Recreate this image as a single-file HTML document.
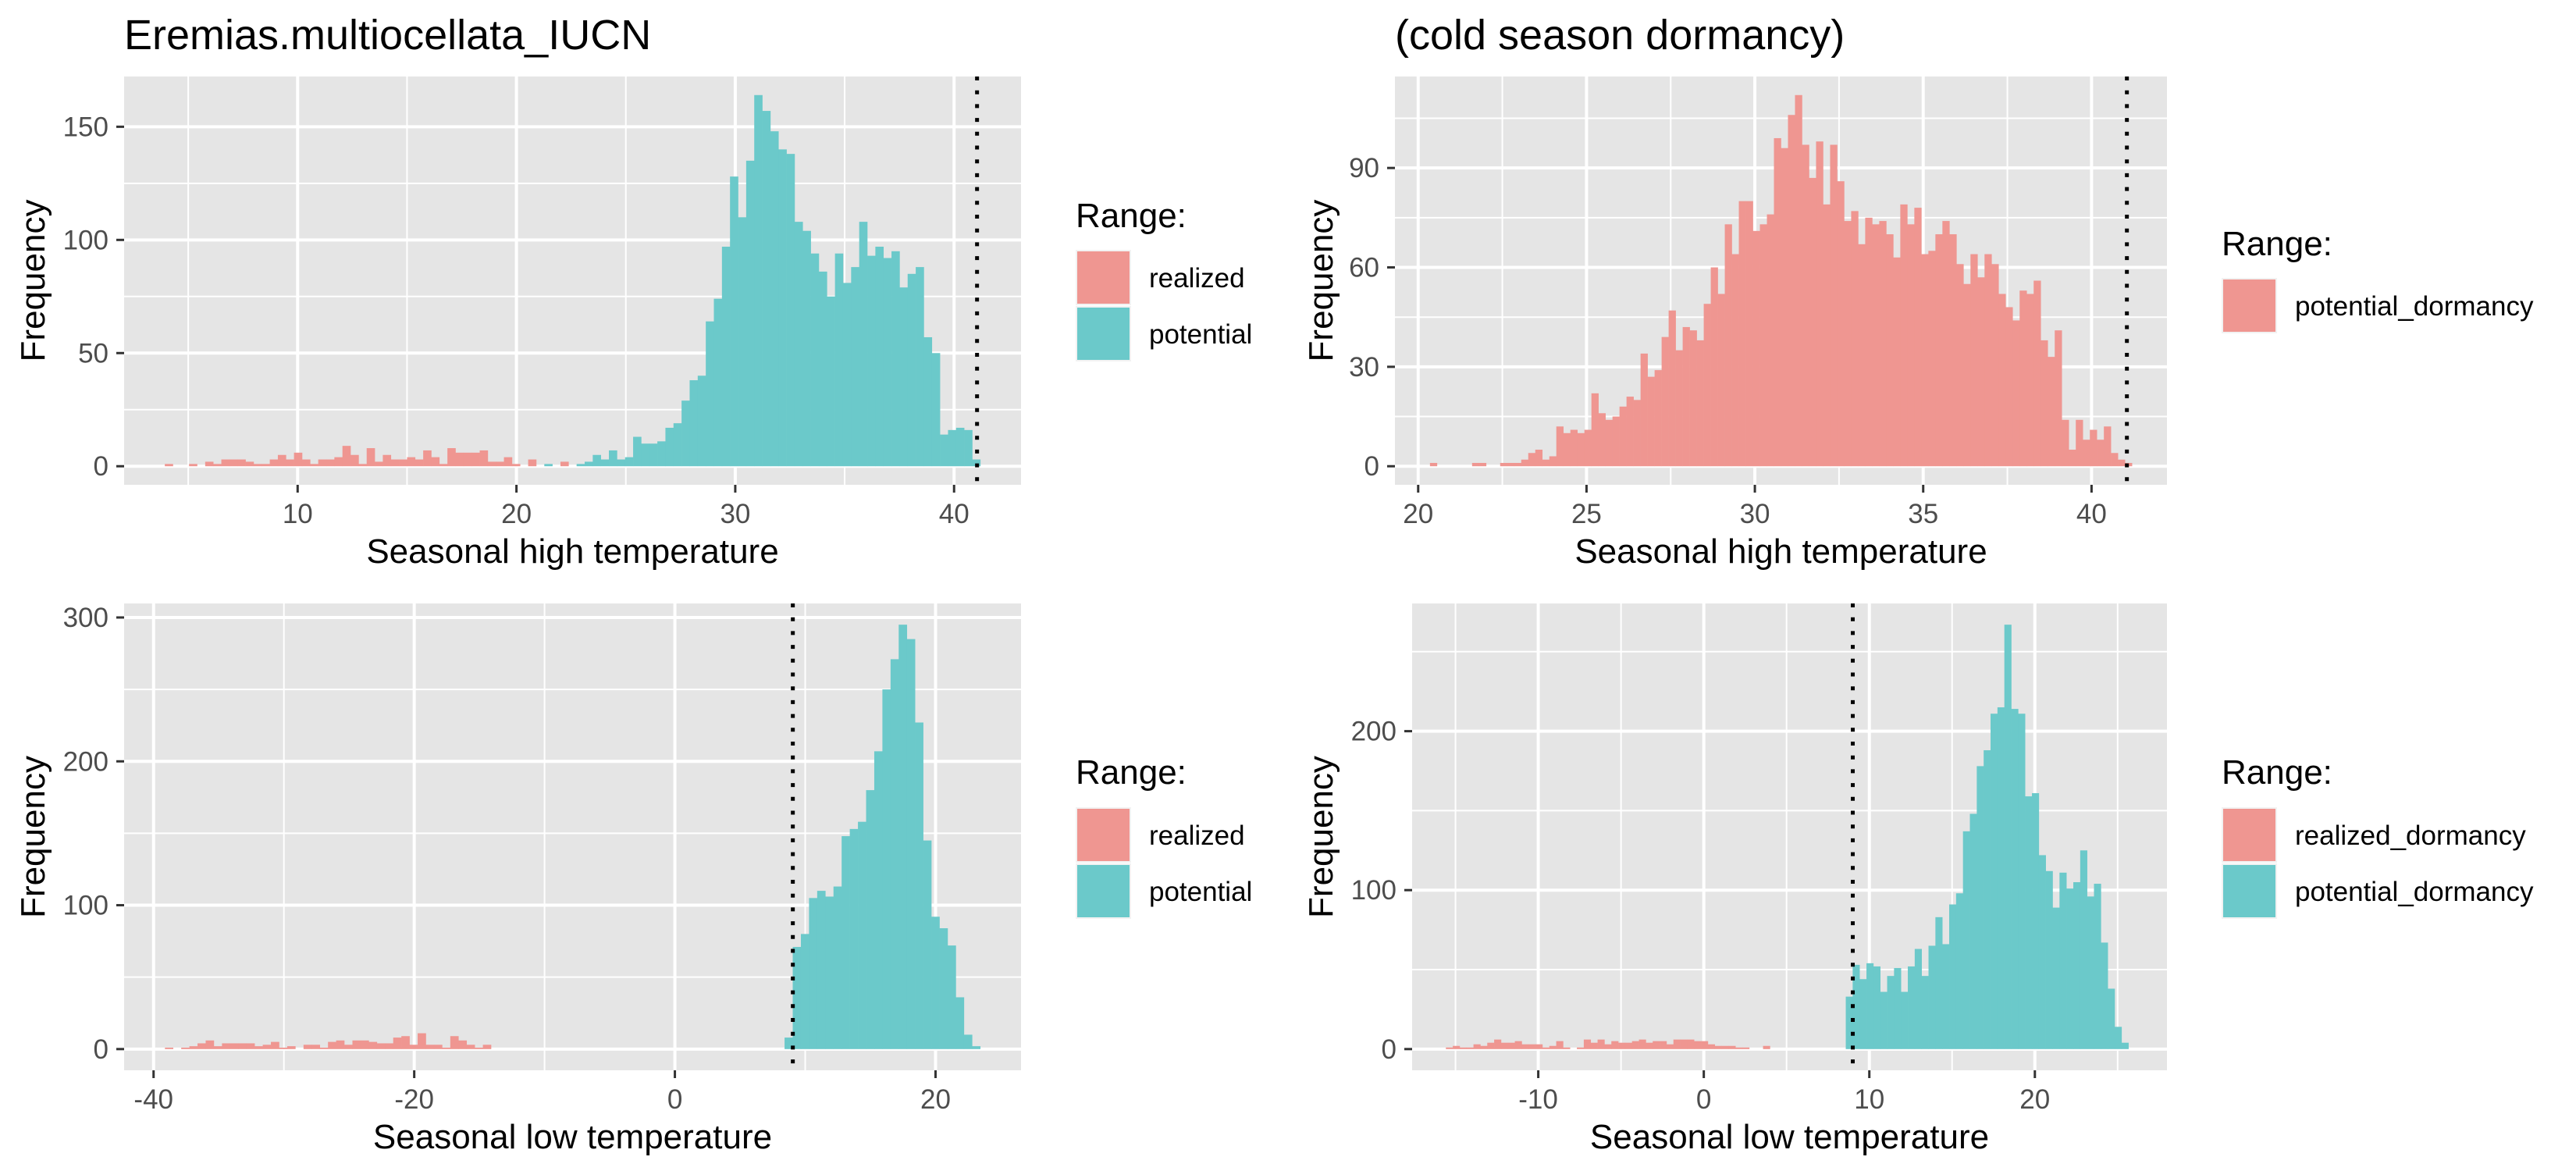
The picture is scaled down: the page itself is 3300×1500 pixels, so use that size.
<!DOCTYPE html>
<html>
<head>
<meta charset="utf-8">
<style>
  html, body { margin:0; padding:0; background:#ffffff; }
  svg { display:block; font-family:"Liberation Sans", Arial, sans-serif; }
</style>
</head>
<body>
<svg id="fig" xmlns="http://www.w3.org/2000/svg" width="3300" height="1500" viewBox="0 0 3300 1500">
  <rect x="0" y="0" width="3300" height="1500" fill="#ffffff"/>
</svg>
<script>
// ---------- DATA ----------
const p1BinStart = 3.93;
const p1BinWidth = 0.369;
const p1Realized = [1,0,0,1,0,2,1,3,3,3,2,1,1,3,5,3,6,3,1,3,3,4,9,5,1,8,2,5,3,3,4,3,7,4,1,8,6,6,6,7,2,2,4,1,0,3,0,0,0,2];
const p1PotentialStartBin = 47;
const p1Potential = [1,0,0,0,1,2,5,3,7,3,4,13,10,10,11,17,19,29,38,40,64,74,97,128,110,135,164,157,148,140,138,108,104,94,86,75,94,81,88,108,93,97,92,95,79,85,88,57,50,14,16,17,16,3];
const p1XTicks = [10,20,30,40];
const p1XMinor = [5,15,25,35];
const p1YTicks = [0,50,100,150];
const p1YMinor = [25,75,125];
const p1Threshold = 41.05;

const p2BinStart = 20.35;
const p2BinWidth = 0.2085;
const p2Potential = [1,0,0,0,0,0,1,1,0,0,1,1,1,
  2,4,5,2,3,12,10,11,10,11,22,16,14,15,18,21,20,34,27,29,39,47,35,42,41,38,49,60,52,73,64,80,80,71,73,76,99,96,106,112,97,87,98,79,97,86,
  74,77,67,75,73,74,70,63,79,73,78,64,65,70,74,70,61,55,64,57,64,61,52,48,44,53,52,56,38,33,41,14,5,14,8,11,8,12,4,2,1];
const p2XTicks = [20,25,30,35,40];
const p2XMinor = [22.5,27.5,32.5,37.5];
const p2YTicks = [0,30,60,90];
const p2YMinor = [15,45,75,105];
const p2Threshold = 41.05;

const p3BinStart = -39.13;
const p3BinWidth = 0.6256;
const p3Realized = [1,0,1,2,4,6,2,4,4,4,4,2,3,5,1,2,0,3,3,1,5,6,3,6,6,5,4,4,8,9,3,11,3,3,1,9,6,3,1,3];
const p3PotentialStartBin = 76;
const p3Potential = [8,71,80,105,110,106,113,148,153,158,180,207,250,271,295,285,227,145,92,84,72,36,10,2];
const p3XTicks = [-40,-20,0,20];
const p3XMinor = [-30,-10,10];
const p3YTicks = [0,100,200,300];
const p3YMinor = [50,150,250];
const p3Threshold = 9.05;

const p4BinStart = -15.58;
const p4BinWidth = 0.4165;
const p4Realized = [1,2,1,1,3,2,4,6,4,4,5,3,3,3,1,2,5,1,0,1,6,4,6,3,5,4,4,5,6,4,5,5,3,6,6,6,5,5,3,2,2,2,1,1,0,0,2];
const p4PotentialStartBin = 58;
const p4Potential = [33,53,44,54,52,36,46,51,36,52,63,46,65,83,66,91,98,137,148,178,188,211,215,267,214,211,159,161,122,112,89,111,101,105,125,96,104,67,38,14,4];
const p4XTicks = [-10,0,10,20];
const p4XMinor = [-15,-5,5,15,25];
const p4YTicks = [0,100,200];
const p4YMinor = [50,150,250];
const p4Threshold = 9.0;

// ---------- RENDERING ----------
const NS = "http://www.w3.org/2000/svg";
const svg = document.getElementById("fig");
const PINK = "#EF9691";
const TEAL = "#6BC9CA";

function mk(tag, attrs, parent) {
  const el = document.createElementNS(NS, tag);
  for (const k in attrs) el.setAttribute(k, attrs[k]);
  parent.appendChild(el);
  return el;
}

function maxOf(arrs) {
  let m = 0;
  arrs.forEach(a => a.forEach(v => { if (v > m) m = v; }));
  return m;
}

function drawPanel(cfg) {
  const g = mk("g", {}, svg);
  
  

  const L = cfg.left, R = cfg.right, T = cfg.top, B = cfg.bottom;
  const ymax = maxOf(cfg.series.map(s => s.values));
  const y0 = -0.05 * ymax, y1 = 1.05 * ymax;
  const sx = v => L + (v - cfg.xDomain[0]) / (cfg.xDomain[1] - cfg.xDomain[0]) * (R - L);
  const sy = v => B - (v - y0) / (y1 - y0) * (B - T);

  const bg = mk("rect", {x:L, y:T, width:R-L, height:B-T, fill:"#E5E5E5"}, g);
  
  

  cfg.xMinor.forEach(v => {
    const ln = mk("line", {x1:sx(v), x2:sx(v), y1:T, y2:B, stroke:"#ffffff", "stroke-width":2}, g);
    
    
  });
  cfg.yMinor.forEach(v => {
    if (v > y1) return;
    const ln = mk("line", {x1:L, x2:R, y1:sy(v), y2:sy(v), stroke:"#ffffff", "stroke-width":2}, g);
    
    
  });
  cfg.xTicks.forEach(v => {
    const ln = mk("line", {x1:sx(v), x2:sx(v), y1:T, y2:B, stroke:"#ffffff", "stroke-width":4}, g);
    
    
  });
  cfg.yTicks.forEach(v => {
    const ln = mk("line", {x1:L, x2:R, y1:sy(v), y2:sy(v), stroke:"#ffffff", "stroke-width":4}, g);
    
    
  });

  cfg.series.forEach(s => {
    const sg = mk("g", {}, g);
    
    
    s.values.forEach((c, i) => {
      if (c <= 0) return;
      const a = cfg.binStart + (s.offset + i) * cfg.binWidth;
      const x0 = sx(a), x1 = sx(a + cfg.binWidth);
      const r = mk("rect", {x:x0, y:sy(c), width:Math.max(0.5, x1 - x0 + 0.3), height:sy(0) - sy(c), fill:s.color}, sg);
      
      
    });
  });

  const th = mk("line", {x1:sx(cfg.threshold), x2:sx(cfg.threshold), y1:T, y2:B, stroke:"#000000", "stroke-width":5, "stroke-dasharray":"5 12.7"}, g);
  
  

  cfg.xTicks.forEach(v => {
    const tk = mk("line", {x1:sx(v), x2:sx(v), y1:B, y2:B+10, stroke:"#333333", "stroke-width":3}, g);
    
    
    const t = mk("text", {x:sx(v), y:B+49, "font-size":35, fill:"#4D4D4D", "text-anchor":"middle"}, g);
    t.textContent = String(v);
    
    
  });
  cfg.yTicks.forEach(v => {
    const tk = mk("line", {x1:L-10, x2:L, y1:sy(v), y2:sy(v), stroke:"#333333", "stroke-width":3}, g);
    
    
    const t = mk("text", {x:L-20, y:sy(v)+12, "font-size":35, fill:"#4D4D4D", "text-anchor":"end"}, g);
    t.textContent = String(v);
    
    
  });

  const xt = mk("text", {x:(L+R)/2, y:B+100, "font-size":44, fill:"#000000", "text-anchor":"middle"}, g);
  xt.textContent = cfg.xTitle;
  
  
  const cy = (T+B)/2;
  const yt = mk("text", {x:cfg.yTitleX, y:cy, "font-size":44, fill:"#000000", "text-anchor":"middle", transform:"rotate(-90 " + cfg.yTitleX + " " + cy + ")"}, g);
  yt.textContent = "Frequency";
  
  

  if (cfg.title) {
    const tt = mk("text", {x:L, y:63, "font-size":54, fill:"#000000"}, g);
    tt.textContent = cfg.title;
    
    
  }

  const lg = mk("g", {}, g);
  
  
  const lt = mk("text", {x:cfg.legendX, y:cfg.legendTitleY, "font-size":44, fill:"#000000"}, lg);
  lt.textContent = "Range:";
  
  
  cfg.legend.forEach((e, i) => {
    const ky = cfg.legendKeyY + i * 72;
    const kb = mk("rect", {x:cfg.legendX, y:ky-2, width:71, height:71, fill:"#F2F2F2"}, lg);
    
    
    const kf = mk("rect", {x:cfg.legendX+2, y:ky, width:67, height:67, fill:e.color}, lg);
    
    
    const kt = mk("text", {x:cfg.legendX+94, y:ky+46, "font-size":35, fill:"#000000"}, lg);
    kt.textContent = e.label;
    
    
  });
}

drawPanel({
  name:"panel-high-temp-iucn", title:"Eremias.multiocellata_IUCN",
  left:159, right:1308, top:98, bottom:621, xDomain:[2.07, 43.06],
  binStart:p1BinStart, binWidth:p1BinWidth,
  series:[{key:"realized", values:p1Realized, offset:0, color:PINK},
          {key:"potential", values:p1Potential, offset:p1PotentialStartBin, color:TEAL}],
  xTicks:p1XTicks, xMinor:p1XMinor, yTicks:p1YTicks, yMinor:p1YMinor, threshold:p1Threshold,
  xTitle:"Seasonal high temperature", yTitleX:57,
  legendX:1378, legendTitleY:291, legendKeyY:322,
  legend:[{label:"realized", color:PINK},{label:"potential", color:TEAL}]
});

drawPanel({
  name:"panel-high-temp-dormancy", title:"(cold season dormancy)",
  left:1787, right:2776, top:98, bottom:621, xDomain:[19.31, 42.24],
  binStart:p2BinStart, binWidth:p2BinWidth,
  series:[{key:"potential-dormancy", values:p2Potential, offset:0, color:PINK}],
  xTicks:p2XTicks, xMinor:p2XMinor, yTicks:p2YTicks, yMinor:p2YMinor, threshold:p2Threshold,
  xTitle:"Seasonal high temperature", yTitleX:1707,
  legendX:2846, legendTitleY:327, legendKeyY:358,
  legend:[{label:"potential_dormancy", color:PINK}]
});

drawPanel({
  name:"panel-low-temp-iucn", title:null,
  left:159, right:1308, top:773, bottom:1371, xDomain:[-42.26, 26.56],
  binStart:p3BinStart, binWidth:p3BinWidth,
  series:[{key:"realized", values:p3Realized, offset:0, color:PINK},
          {key:"potential", values:p3Potential, offset:p3PotentialStartBin, color:TEAL}],
  xTicks:p3XTicks, xMinor:p3XMinor, yTicks:p3YTicks, yMinor:p3YMinor, threshold:p3Threshold,
  xTitle:"Seasonal low temperature", yTitleX:57,
  legendX:1378, legendTitleY:1004, legendKeyY:1036,
  legend:[{label:"realized", color:PINK},{label:"potential", color:TEAL}]
});

drawPanel({
  name:"panel-low-temp-dormancy", title:null,
  left:1809, right:2776, top:773, bottom:1371, xDomain:[-17.62, 27.98],
  binStart:p4BinStart, binWidth:p4BinWidth,
  series:[{key:"realized-dormancy", values:p4Realized, offset:0, color:PINK},
          {key:"potential-dormancy", values:p4Potential, offset:p4PotentialStartBin, color:TEAL}],
  xTicks:p4XTicks, xMinor:p4XMinor, yTicks:p4YTicks, yMinor:p4YMinor, threshold:p4Threshold,
  xTitle:"Seasonal low temperature", yTitleX:1707,
  legendX:2846, legendTitleY:1004, legendKeyY:1036,
  legend:[{label:"realized_dormancy", color:PINK},{label:"potential_dormancy", color:TEAL}]
});
</script>
</body>
</html>
